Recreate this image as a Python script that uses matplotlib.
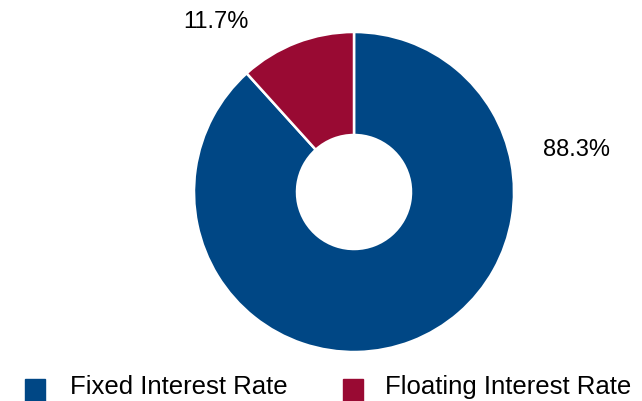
import matplotlib.pyplot as plt
from matplotlib.patches import Rectangle

plt.rcParams['font.family'] = ['Liberation Sans', 'DejaVu Sans']

categories = ['Fixed Interest Rate', 'Floating Interest Rate']
shares = [88.3, 11.7]
colors = ['#004785', '#990a33']

# canvas in pixel units, origin bottom-left
W, H = 642, 401
fig = plt.figure(figsize=(W / 100, H / 100), dpi=100)
ax = fig.add_axes([0, 0, 1, 1])

ax.pie(shares, colors=colors, startangle=90, counterclock=False,
       center=(354, 209), radius=160,
       wedgeprops=dict(width=103, edgecolor='white', linewidth=1.8))

# pie() resets the limits, so set them afterwards
ax.set_xlim(0, W)
ax.set_ylim(0, H)
ax.set_aspect('equal')
ax.axis('off')

# value labels
ax.text(577, 251, f'{shares[0]:.1f}%', fontsize=17, ha='center', va='center')
ax.text(216, 379, f'{shares[1]:.1f}%', fontsize=17, ha='center', va='center')

# legend along the bottom edge
for x_box, x_txt, name, c in zip([25, 343], [70, 385], categories, colors):
    ax.add_patch(Rectangle((x_box, 0), 20, 22, color=c))
    ax.text(x_txt, 7, name, fontsize=18.5, ha='left', va='baseline')

fig.savefig('out.png', dpi=100)
